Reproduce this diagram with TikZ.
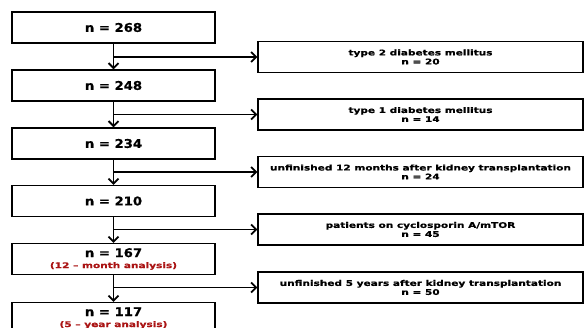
\documentclass[tikz,border=0pt]{standalone}
\usepackage{fontspec}
\setmainfont{DejaVu Sans}
\newfontfamily\widefont[FakeStretch=1.35,FakeBold=0.8]{DejaVu Sans}
\newfontfamily\mainwide[FakeStretch=1.1,FakeBold=0.6]{DejaVu Sans}
\usepackage{xcolor}
\usepackage{tikz}
\usetikzlibrary{arrows.meta,positioning}
\definecolor{darkred}{RGB}{170,20,20}
\tikzset{box/.style={rectangle,draw,line width=1.4pt,minimum width=203pt,minimum height=31pt,inner sep=1pt,align=center,font=\mainwide\bfseries\fontsize{12}{12}\selectfont}}
\tikzset{side/.style={rectangle,draw,line width=1.4pt,minimum width=325pt,minimum height=31pt,inner sep=1pt,align=center,font=\widefont\bfseries\fontsize{7.8}{9}\selectfont}}
\newcommand{\subtxt}[1]{{\widefont\bfseries\fontsize{7.8}{8}\selectfont\color{darkred}#1}}

\begin{document}
\begin{tikzpicture}[x=1pt,y=-1pt,>={Straight Barb[length=5pt,width=10pt]},line width=1.8pt]
    \useasboundingbox (0,0) rectangle (584,328);
    \node[box] (a)at (113.5,27.5) {n = 268};
    \node[box] (b)at (113.5,85.5) {n = 248};
    \node[box] (c)at (113.5,143.5) {n = 234};
    \node[box] (d)at (113.5,201) {n = 210};
    \node[box] (e)at (113.5,259) {n = 167\\[-1pt]\subtxt{(12 – month analysis)}};
    \node[box] (f)at (113.5,318) {n = 117\\[-1pt]\subtxt{(5 – year analysis)}};

    \node[side] (a1)at (420.5,57) {type 2 diabetes mellitus\\n = 20};
    \node[side] (b1)at (420.5,114.5) {type 1 diabetes mellitus\\n = 14};
    \node[side] (c1)at (420.5,172) {unfinished 12 months after kidney transplantation\\n = 24};
    \node[side] (d1)at (420.5,229.5) {patients on cyclosporin A/mTOR\\n = 45};
    \node[side] (e1)at (420.5,287.5) {unfinished 5 years after kidney transplantation\\n = 50};

    \draw [->] (a) to (b);
    \draw [->] (b) to (c);
    \draw [->] (c) to (d);
    \draw [->] (d) to (e);
    \draw [->] (e) to (f);
    \draw [->] (a.south |- a1) to (a1);
    \draw [->] (b.south |- b1) to (b1);
    \draw [->] (c.south |- c1) to (c1);
    \draw [->] (d.south |- d1) to (d1);
    \draw [->] (e.south |- e1) to (e1);
\end{tikzpicture}
\end{document}
